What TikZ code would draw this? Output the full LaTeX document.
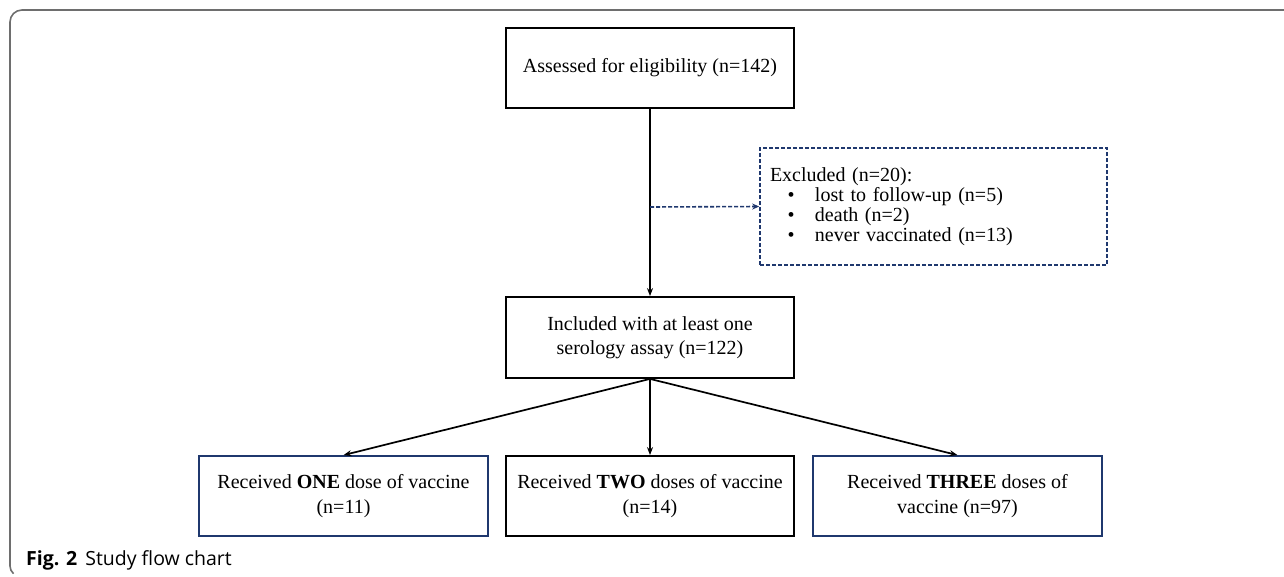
\documentclass[tikz,border=0pt]{standalone}
\usepackage{fontspec}
\setmainfont{Liberation Serif}
\newfontfamily\capfont{Open Sans}
\usetikzlibrary{arrows.meta}
\definecolor{navy}{RGB}{31,56,110}
\definecolor{framegray}{RGB}{110,110,110}
\tikzset{
  box/.style={draw=black, line width=1.8pt, rectangle, inner sep=0pt, align=center,
    font=\fontsize{20}{24}\selectfont},
  navybox/.style={box, draw=navy},
  arr/.style={line width=1.7pt, -{Stealth[length=8pt,width=6pt]}},
  dasharr/.style={draw=navy, line width=1.6pt, dash pattern=on 4pt off 2pt, -{Stealth[length=7pt,width=6pt]}, color=navy},
}
\begin{document}
\begin{tikzpicture}[x=1pt,y=-1pt]
\useasboundingbox (0,0) rectangle (1284,576);
% frame
\draw[framegray, line width=1.6pt] (1284,10) -- (22,10) arc[start angle=270, end angle=180, radius=12] -- (10,566) arc[start angle=180, end angle=130, radius=10];
% boxes
\node[box, minimum width=288pt, minimum height=80pt] (assess) at (650,68) {Assessed for eligibility (n=142)};
\node[box, minimum width=288pt, minimum height=81pt] (incl) at (650,337.5) {Included with at least one\\serology assay (n=122)};
\node[draw=navy, line width=1.6pt, dash pattern=on 4pt off 2pt, rectangle, minimum width=347pt, minimum height=117pt,
  text width=327pt, inner xsep=10pt, inner ysep=0pt, align=left, font=\fontsize{20}{20}\selectfont] (excl) at (933.5,206.5)
  {Excluded (n=20):\\
   \hspace*{17.5pt}\makebox[27.5pt][l]{\textbullet}lost to follow-up (n=5)\\
   \hspace*{17.5pt}\makebox[27.5pt][l]{\textbullet}death (n=2)\\
   \hspace*{17.5pt}\makebox[27.5pt][l]{\textbullet}never vaccinated (n=13)\\[6pt]};
\node[navybox, minimum width=289pt, minimum height=80pt, font=\fontsize{20}{25}\selectfont] (one) at (343.5,496) {Received \textbf{ONE} dose of vaccine\\(n=11)};
\node[box, minimum width=288pt, minimum height=80pt, font=\fontsize{20}{25}\selectfont] (two) at (650,496) {Received \textbf{TWO} doses of vaccine\\(n=14)};
\node[navybox, minimum width=289pt, minimum height=80pt, font=\fontsize{20}{25}\selectfont] (three) at (957.5,496) {Received \textbf{THREE} doses of\\vaccine (n=97)};
% connectors
\coordinate (split) at (650,207);
\draw[arr] (assess.south) -- (incl.north);
\draw[dasharr] (split) -- (excl.west);
\draw[arr] (incl.south) -- (one.north);
\draw[arr] (incl.south) -- (two.north);
\draw[arr] (incl.south) -- (three.north);
% caption
\node[anchor=base west, inner sep=0pt, font=\capfont\fontsize{19.5}{22}\selectfont] (cap) at (26,565) {\textbf{Fig. 2}\hspace{8pt}Study flow chart};
\end{tikzpicture}
\end{document}
